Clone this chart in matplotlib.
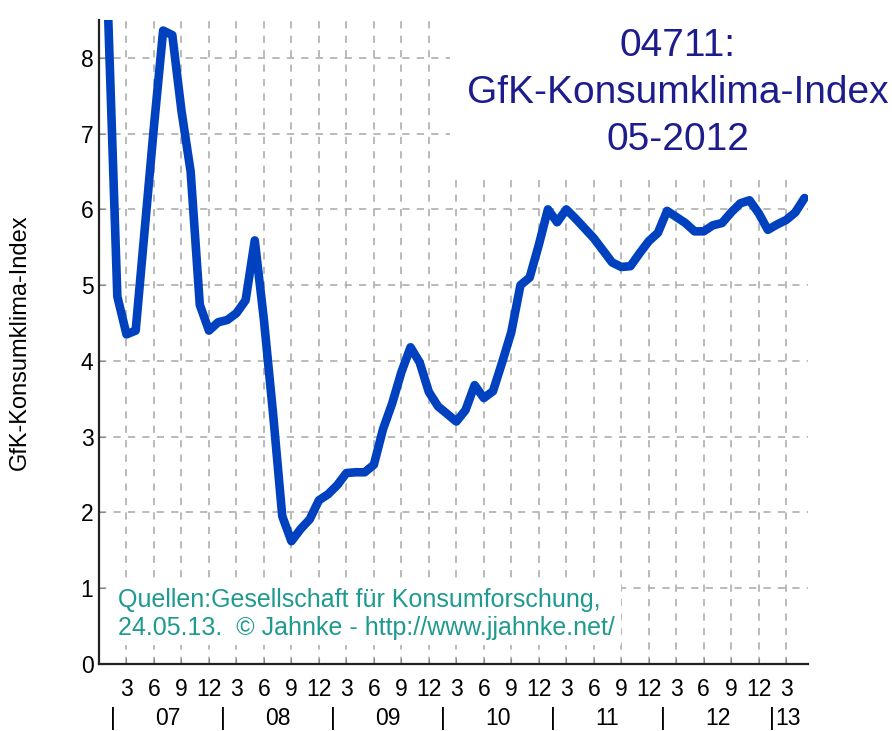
import numpy as np
import matplotlib
matplotlib.use('Agg')
import matplotlib.pyplot as plt
from matplotlib import transforms

plt.rcParams['font.family'] = ['Liberation Sans', 'DejaVu Sans']

# Monatswerte ab Jan 2007 (t=1) bis Mai 2013
werte = [8.55, 4.85, 4.35, 4.4, 5.75, 7.1,
         8.36, 8.3, 7.3, 6.5, 4.74, 4.4, 4.51,
         4.54, 4.63, 4.8, 5.59, 4.54, 3.3, 1.95, 1.62, 1.78, 1.91, 2.16, 2.24,
         2.36, 2.52, 2.53, 2.53, 2.63, 3.1, 3.44, 3.85, 4.18, 3.98, 3.59, 3.4,
         3.3, 3.2, 3.35, 3.68, 3.51, 3.6, 3.98, 4.38, 5.0, 5.1, 5.53, 6.0,
         5.83, 6.0, 5.88, 5.75, 5.62, 5.46, 5.3, 5.24, 5.25, 5.42, 5.58, 5.69,
         5.98, 5.9, 5.82, 5.71, 5.71, 5.79, 5.82, 5.96, 6.08, 6.12, 5.95, 5.73,
         5.8, 5.86, 5.96, 6.15]
monate = np.arange(1, len(werte) + 1)

monat_labels = ['3', '6', '9', '12']
jahre = ['07', '08', '09', '10', '11', '12', '13']
y_ticks = [0, 1, 2, 3, 4, 5, 6, 7, 8]

titel = '04711:\nGfK-Konsumklima-Index\n05-2012'
quelle = 'Quellen:Gesellschaft für Konsumforschung,\n24.05.13.  © Jahnke - http://www.jjahnke.net/'

fig = plt.figure(figsize=(8.92, 7.31), dpi=100)
ax = fig.add_axes([0.111, 0.0917, 0.795, 0.881])

ax.plot(monate, werte, color='#0041bf', lw=6.2, solid_capstyle='round',
        solid_joinstyle='round', zorder=5)

ax.set_xlim(0, 77.4)
ax.set_ylim(0, 8.5)

# Gitter alle 3 Monate
xt = np.arange(3, 77, 3)
ax.set_xticks(xt)
ax.set_xticklabels([])
ax.set_yticks(y_ticks)
ax.set_yticklabels([str(v) for v in y_ticks], fontsize=16.5)
ax.tick_params(axis='x', direction='in', length=4, color='#888888')
ax.tick_params(axis='y', direction='in', length=4, pad=4, color='#888888')
ax.grid(True, color='#b4b4b4', ls=(0, (4, 4)), lw=1.3)

for s in ['top', 'right']:
    ax.spines[s].set_visible(False)
for s in ['left', 'bottom']:
    ax.spines[s].set_linewidth(1.6)
    ax.spines[s].set_color('#222222')

# Monatsbeschriftung und Jahre unter der Achse
tr = transforms.blended_transform_factory(ax.transData, ax.transAxes)
for i, t in enumerate(xt):
    ax.text(t, -0.040, monat_labels[i % 4], transform=tr, ha='center',
            va='center', fontsize=16.5)
for k, j in enumerate(jahre):
    ax.text(12 * k + 1.5, -0.084, '|', transform=tr, ha='center',
            va='center', fontsize=16.5)
    if j == '13':
        ax.text(12 * k + 1.8, -0.084, j, transform=tr, ha='left',
                va='center', fontsize=16.5)
    else:
        ax.text(12 * k + 7.5, -0.084, j, transform=tr, ha='center',
                va='center', fontsize=16.5)

ax.set_ylabel('GfK-Konsumklima-Index', fontsize=17, labelpad=36)

fig.text(0.760, 0.962, titel, ha='center', va='top', fontsize=28,
         color='#1c1c8c', linespacing=1.4,
         bbox=dict(facecolor='white', edgecolor='none', pad=12))

ax.text(0.027, 0.078, quelle, transform=ax.transAxes, ha='left', va='center',
        fontsize=18, color='#1f9a8f', linespacing=1.2, zorder=4,
        bbox=dict(facecolor='white', edgecolor='none', pad=4))

plt.savefig('out.png', dpi=100)
